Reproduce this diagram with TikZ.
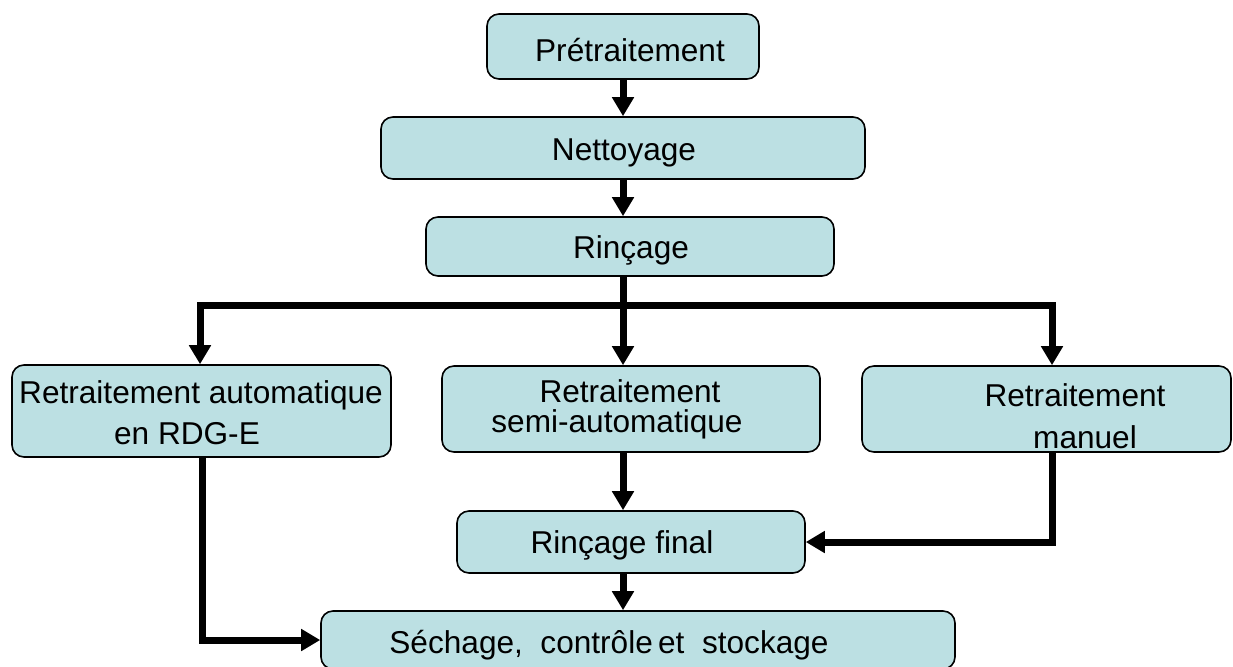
\documentclass[tikz,border=0pt]{standalone}
\usepackage{fontspec}
\setmainfont{Liberation Sans}
\usetikzlibrary{arrows.meta}
\definecolor{boxfill}{RGB}{188,224,227}
\begin{document}
\begin{tikzpicture}[x=0.5pt,y=-0.5pt,
  box/.style={draw=black,line width=0.8pt,fill=boxfill,rounded corners=6pt,inner sep=0pt},
  txt/.style={font=\fontsize{15.8}{19}\selectfont,inner sep=0pt,anchor=center},
  arr/.style={line width=3.5pt,line join=miter,-{Triangle[length=9.5pt,width=10.5pt]}},
  seg/.style={line width=3.5pt,line join=miter}]
\useasboundingbox (0,0) rectangle (1233,666);
\clip (0,0) rectangle (1233,666);
\newcommand\bx[5]{\node[box,minimum width={(#4-#2)*0.5pt},minimum height={(#5-#3)*0.5pt}] (#1) at ({(#2+#4)/2},{(#3+#5)/2}) {};}
\bx{pre}{487}{14}{759}{79}
\bx{net}{381}{117}{865}{179}
\bx{rin}{426}{217}{834}{276}
\bx{auto}{12}{365}{391}{457}
\bx{semi}{442}{366}{820}{452}
\bx{man}{862}{366}{1231}{452}
\bx{fin}{457}{511}{805}{573}
\bx{sech}{321}{611}{955}{669}
% texts
\node[txt] (tpre) at (630,50) {Prétraitement};
\node[txt] (tnet) at (624,153) {Nettoyage};
\node[txt] (trin) at (631,250) {Rinçage};
\node[txt] (tauto1) at (201,395) {Retraitement automatique};
\node[txt] (tauto2) at (187,434) {en RDG-E};
\node[txt] (tsemi1) at (630,391) {Retraitement};
\node[txt] (tsemi2) at (617,424) {semi-automatique};
\node[txt] (tman1) at (1075,395) {Retraitement};
\node[txt] (tman2) at (1085,437) {manuel};
\node[txt] (tfin) at (622,545) {Rinçage final};
\node[txt] (tsech) at (609,645) {Séchage,\ \ contrôle\,et\ \ stockage};
% connectors
\coordinate (split) at (623,305);
\coordinate (colL) at (202,0);
\coordinate (colR) at (1052,0);
\draw[arr] (pre.south -| split) -- (net.north -| split);
\draw[arr] (net.south -| split) -- (rin.north -| split);
\draw[seg] (rin.south -| split) -- (split);
\draw[arr] (split) -| (auto.north -| 200,0);
\draw[arr] (split) -- (semi.north -| split);
\draw[arr] (split) -| (man.north -| colR);
\draw[arr] (semi.south -| split) -- (fin.north -| split);
\draw[arr] (man.south -| colR) |- (fin.east);
\draw[arr] (fin.south -| split) -- (sech.north -| split);
\draw[arr] (auto.south -| colL) |- (sech.west);
\end{tikzpicture}
\end{document}
